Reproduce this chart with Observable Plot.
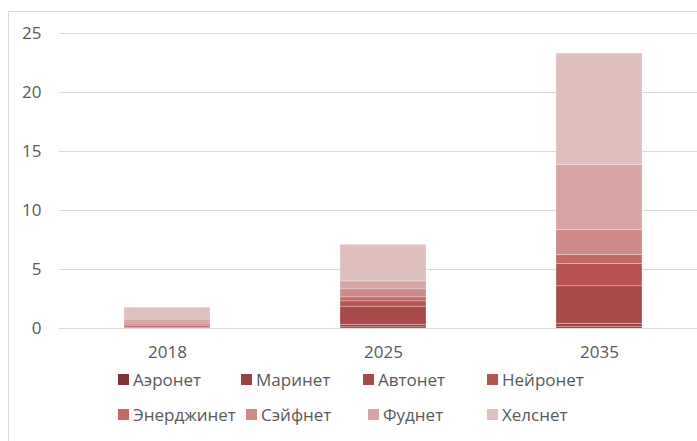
<!DOCTYPE html>
<html>
<head>
<meta charset="utf-8">
<script src="https://cdn.jsdelivr.net/npm/d3@7"></script>
<script src="https://cdn.jsdelivr.net/npm/@observablehq/plot@0.6"></script>
<style>
  html, body { margin: 0; padding: 0; background: #fff; overflow: hidden; }
  #wrap { position: relative; width: 697px; height: 441px; overflow: hidden; }
  #frame { position: absolute; left: 8px; top: 11px; width: 760px; height: 480px; border: 1px solid #d9d9d9; box-sizing: border-box; pointer-events: none; }
  #chart { position: absolute; left: 0; top: 0; width: 707px; }
  #chart svg { max-width: none !important; }
  #legend { position: absolute; left: 0; top: 0; width: 697px; height: 441px; font-family: "Open Sans", sans-serif; font-size: 17px; color: #595959; }
  .item { position: absolute; display: flex; align-items: center; white-space: nowrap; }
  .sw { width: 11px; height: 11px; margin-right: 4px; }
</style>
</head>
<body>
<div id="wrap">
  <div id="frame"></div>
  <div id="chart"></div>
  <div id="legend"></div>
</div>
<script>
const categories = ["2018", "2025", "2035"];
const seriesNames = ["Аэронет", "Маринет", "Автонет", "Нейронет", "Энерджинет", "Сэйфнет", "Фуднет", "Хелснет"];
const seriesColors = ["#7d3338", "#9b4144", "#a84a4b", "#b65452", "#c36a68", "#cd8a88", "#d5a4a3", "#e0c0bf"];
const values2018 = [0.03, 0.05, 0.10, 0.08, 0.09, 0.16, 0.25, 1.00];
const values2025 = [0.10, 0.20, 1.55, 0.45, 0.34, 0.68, 0.67, 3.10];
const values2035 = [0.15, 0.25, 3.18, 1.90, 0.76, 2.12, 5.48, 9.46];
const yTicks = [0, 5, 10, 15, 20, 25];

const valuesByYear = [values2018, values2025, values2035];
const data = [];
categories.forEach((year, i) => {
  seriesNames.forEach((s, j) => data.push({year, series: s, value: valuesByYear[i][j]}));
});

const chart = Plot.plot({
  width: 707,
  height: 441,
  marginLeft: 59,
  marginRight: 0,
  marginTop: 33,
  marginBottom: 113,
  style: {fontFamily: "'Open Sans', sans-serif", fontSize: "17px", color: "#595959", background: "transparent", maxWidth: "none"},
  x: {domain: categories, paddingInner: 0.6, paddingOuter: 0.3, label: null},
  y: {domain: [0, 25], label: null},
  color: {domain: seriesNames, range: seriesColors},
  marks: [
    Plot.gridY(yTicks, {stroke: "#d9d9d9", strokeOpacity: 1, strokeWidth: 1}),
    Plot.barY(data, {x: "year", y: "value", fill: "series", order: seriesNames, stroke: "#ffffff", strokeWidth: 0.6, strokeOpacity: 0.45}),
    Plot.axisY({ticks: yTicks, tickSize: 0, tickPadding: 18, label: null}),
    Plot.axisX({tickSize: 0, tickPadding: 17, label: null})
  ]
});
document.getElementById("chart").appendChild(chart);

// legend (Excel-style two rows)
const legendPos = [[118, 379], [241, 379], [363, 379], [487, 379], [118, 414], [246, 414], [368, 414], [487, 414]];
const legend = document.getElementById("legend");
seriesNames.forEach((s, i) => {
  const el = document.createElement("div");
  el.className = "item";
  el.style.left = legendPos[i][0] + "px";
  el.style.top = (legendPos[i][1] - 11) + "px";
  el.style.height = "22px";
  const sw = document.createElement("div");
  sw.className = "sw";
  sw.style.background = seriesColors[i];
  const tx = document.createElement("span");
  tx.textContent = s;
  el.appendChild(sw);
  el.appendChild(tx);
  legend.appendChild(el);
});
</script>
</body>
</html>
